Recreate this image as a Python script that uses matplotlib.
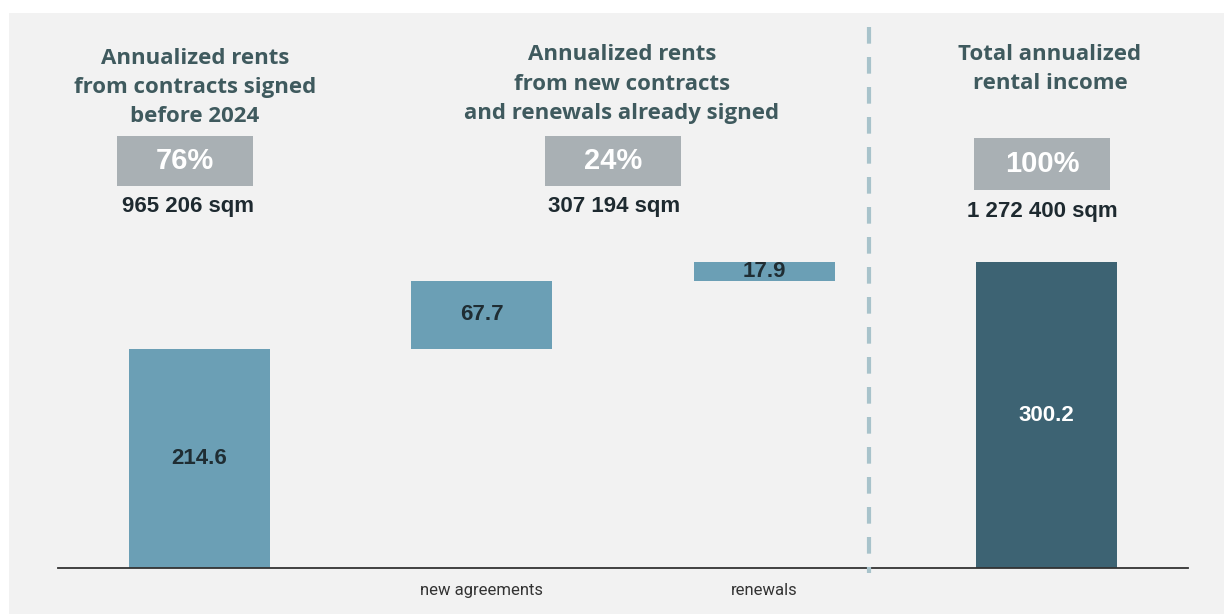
import matplotlib
matplotlib.use("Agg")
import matplotlib.pyplot as plt
from matplotlib.patches import Rectangle
from matplotlib import font_manager

# ---- data ----
categories = ["", "new agreements", "renewals", ""]
values = [214.6, 67.7, 17.9, 300.2]
value_labels = ["214.6", "67.7", "17.9", "300.2"]
headers = ["Annualized rents\nfrom contracts signed\nbefore 2024",
           "Annualized rents\nfrom new contracts\nand renewals already signed",
           "Total annualized\nrental income"]
shares = ["76%", "24%", "100%"]
areas = ["965 206 sqm", "307 194 sqm", "1 272 400 sqm"]

W, H = 1224, 614
fig = plt.figure(figsize=(W / 100, H / 100), dpi=100)
fig.patch.set_facecolor("white")

def fx(px):
    return px / W

def fy(py):
    return 1 - py / H

# background panel
fig.patches.append(Rectangle((fx(9), 0), 1 - fx(9), fy(13), transform=fig.transFigure,
                             facecolor="#f2f2f2", edgecolor="none", zorder=-10))

names = {f.name for f in font_manager.fontManager.ttflist}
narrow = "Liberation Sans Narrow" if "Liberation Sans Narrow" in names else "Roboto"
head_font = "Open Sans"

ax = fig.add_axes([fx(58), 1 - 568 / H, fx(1188) - fx(58), (568 - 13) / H])
ax.set_zorder(1)
ax.set_facecolor("none")
ax.set_xlim(-0.5, 3.5)
ax.set_ylim(0, 545)

light = "#6b9fb5"
dark = "#3d6373"

# waterfall bottoms
bottoms = [0, values[0], values[0] + values[1], 0]
colors = [light, light, light, dark]
x = list(range(len(values)))
ax.bar(x, values, width=0.5, bottom=bottoms, color=colors, edgecolor="none", zorder=2)

for i in range(len(values)):
    c = "white" if i == 3 else "#1f2d33"
    ax.text(x[i], bottoms[i] + values[i] / 2, value_labels[i], ha="center", va="center",
            fontsize=16, fontweight="bold", color=c, family="Liberation Sans", zorder=3)

for s in ax.spines.values():
    s.set_visible(False)
ax.spines["bottom"].set_visible(True)
ax.spines["bottom"].set_color("#333333")
ax.spines["bottom"].set_linewidth(1.3)
ax.set_yticks([])
ax.set_xticks(x)
ax.set_xticklabels(categories, fontsize=12, color="#333333", family=narrow)
ax.tick_params(axis="x", length=0, pad=11)

# dashed separator
fig.add_artist(plt.Line2D([fx(869), fx(869)], [fy(27), fy(573)], transform=fig.transFigure,
                          color="#a8c3cb", linewidth=3, dashes=(4, 3.2), zorder=5))

# headers
head_pos = [(195, 87), (622, 84), (1050, 69)]
for (hx, hy), t in zip(head_pos, headers):
    fig.text(fx(hx), fy(hy), t, ha="center", va="center", fontsize=16, fontweight="bold",
             color="#3f5a5e", family=head_font, linespacing=1.5, zorder=5)

# share boxes
boxes = [(117, 136, 253, 186), (545, 136, 681, 186), (974, 138, 1110, 190)]
for (x0, y0, x1, y1), s in zip(boxes, shares):
    fig.patches.append(Rectangle((fx(x0), fy(y1)), fx(x1) - fx(x0), fy(y0) - fy(y1),
                                 transform=fig.transFigure, facecolor="#a9b0b4",
                                 edgecolor="none", zorder=4))
    fig.text(fx((x0 + x1) / 2), fy((y0 + y1) / 2), s, ha="center", va="center",
             fontsize=21, fontweight="bold", color="white", family="Liberation Sans", zorder=5)

area_pos = [(188, 207), (614, 207), (1042, 212)]
for (px, py), t in zip(area_pos, areas):
    fig.text(fx(px), fy(py), t, ha="center", va="center", fontsize=16, fontweight="bold",
             color="#1e2a30", family="Liberation Sans", zorder=5)

fig.savefig("out.png", dpi=100, facecolor=fig.get_facecolor())
